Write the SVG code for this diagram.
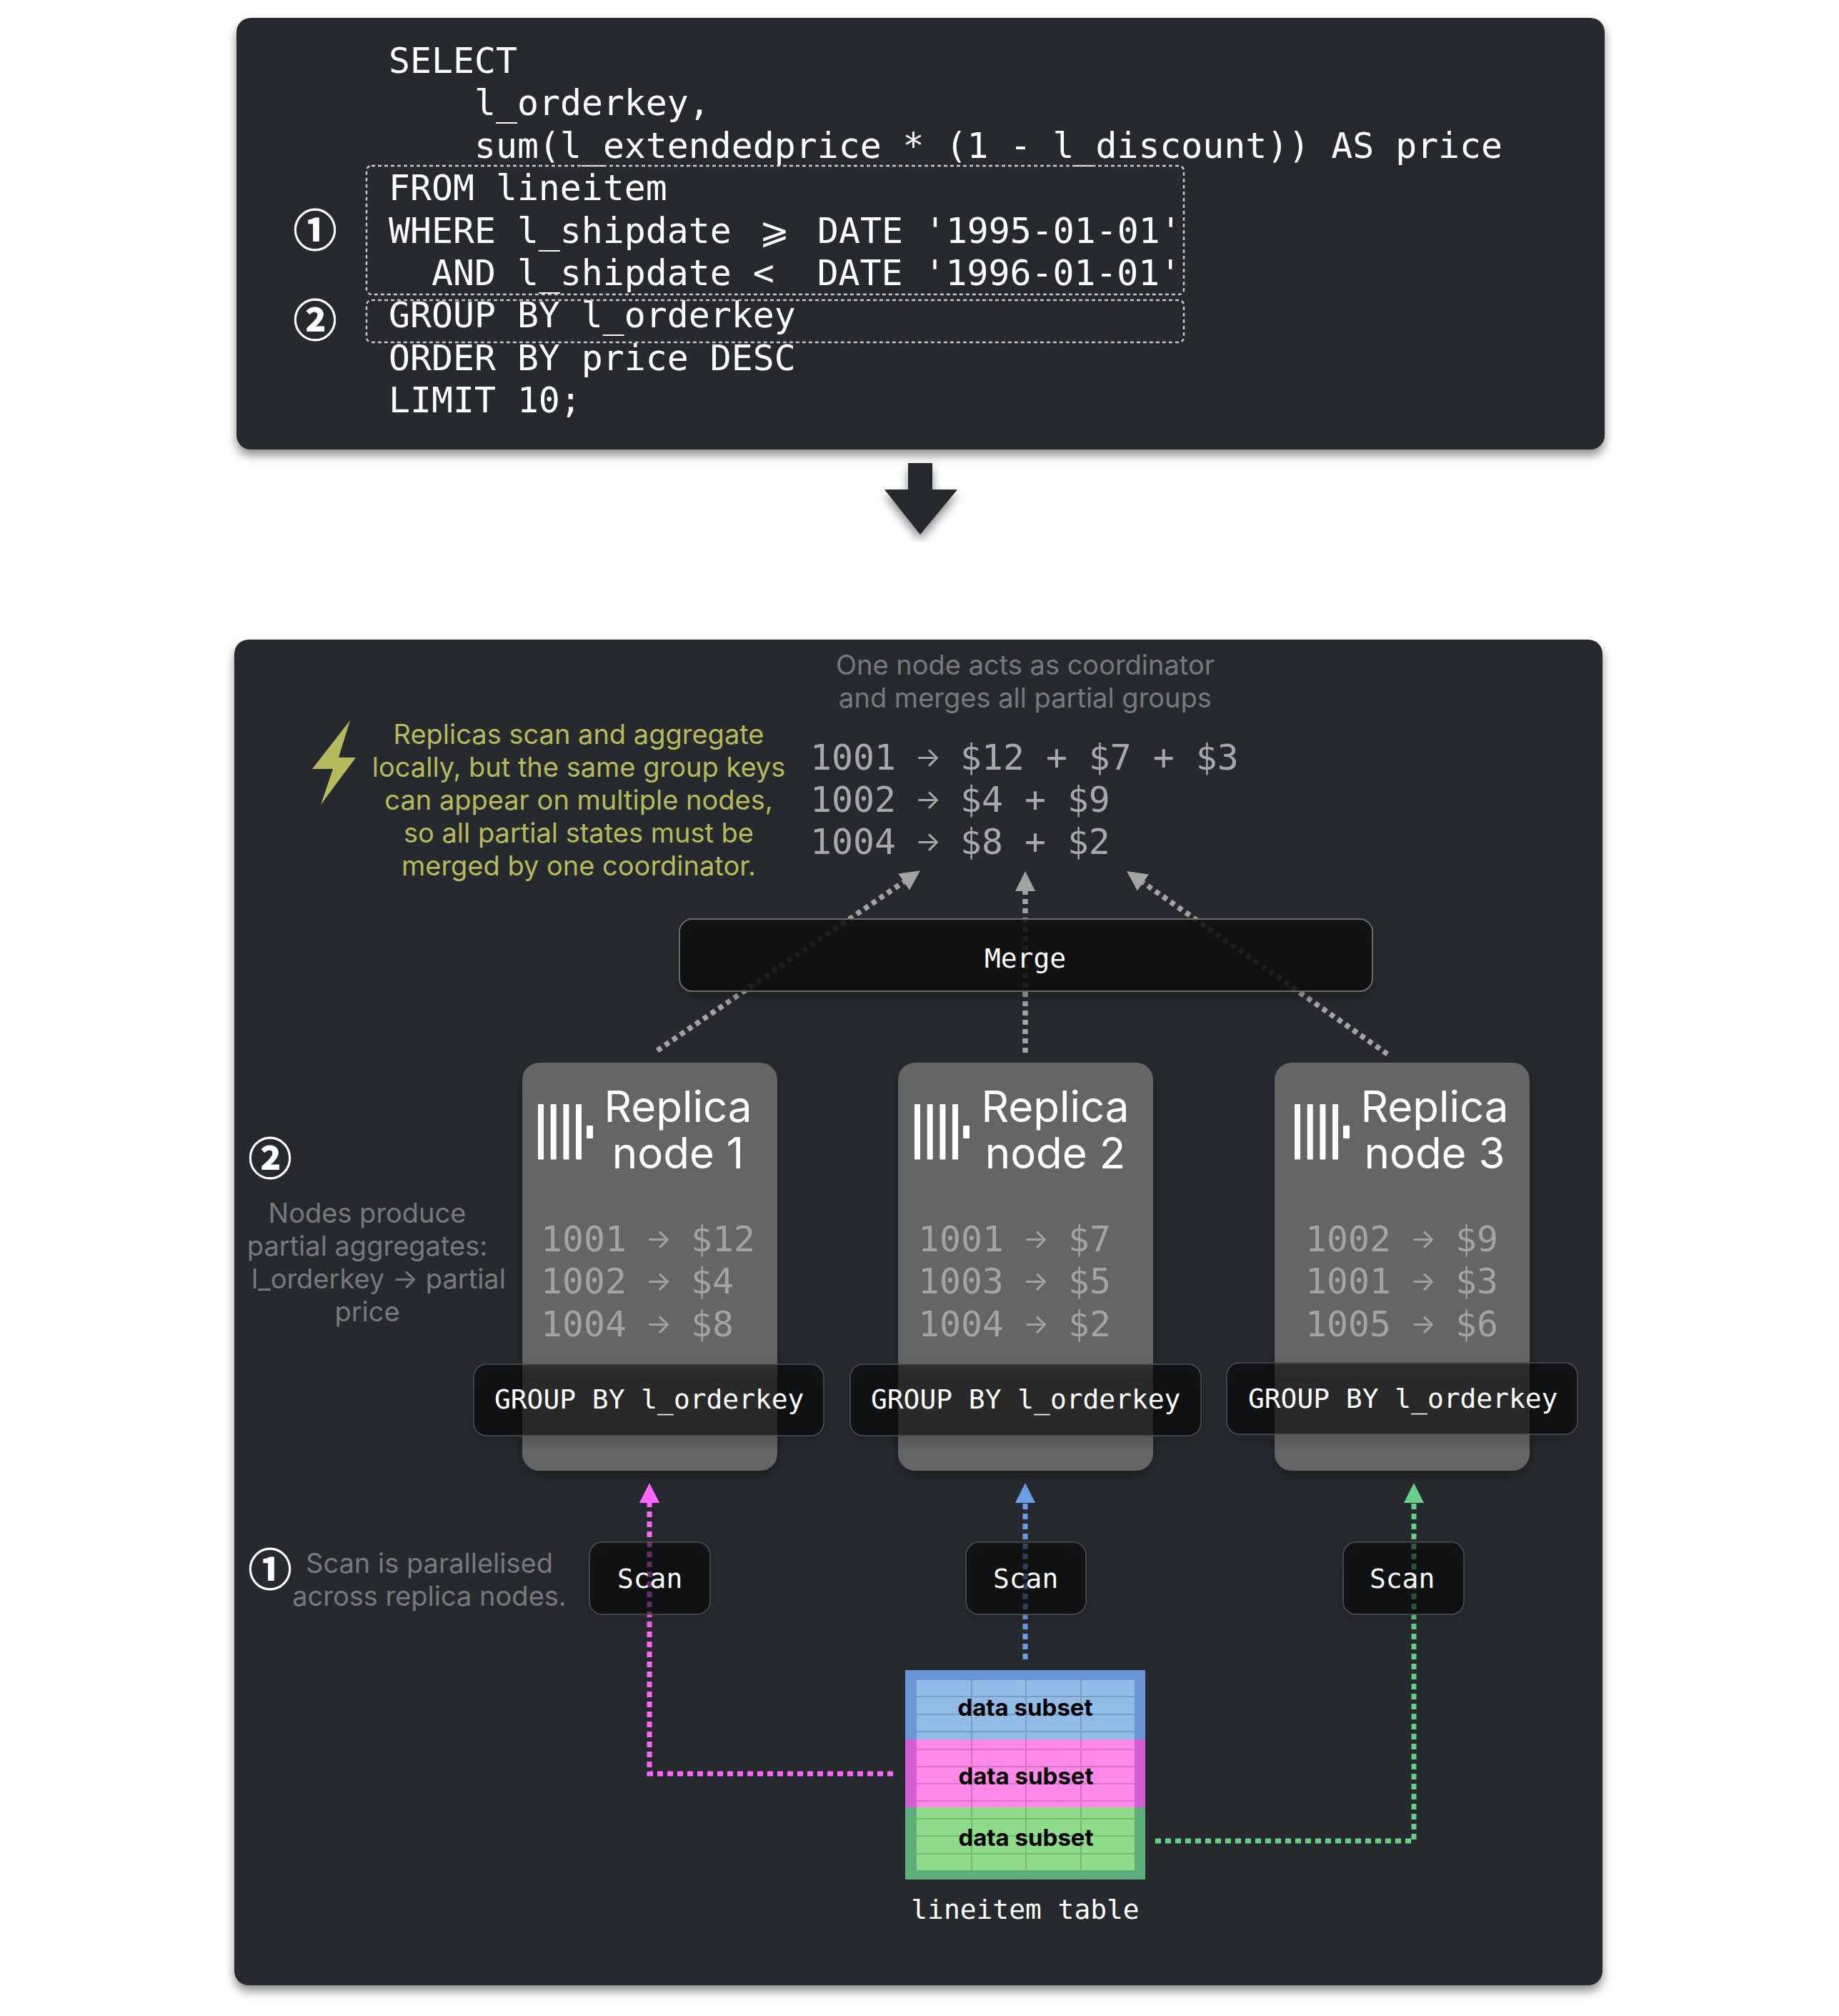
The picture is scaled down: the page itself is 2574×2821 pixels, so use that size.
<svg xmlns="http://www.w3.org/2000/svg" width="2574" height="2821" viewBox="0 0 2574 2821">
<style>
text{white-space:pre}
.m{font-family:"DejaVu Sans Mono","Liberation Mono",monospace}
.i{font-family:Inter,"Noto Sans",sans-serif}
.code{font-size:49.8px;fill:#fff}
.mid{text-anchor:middle}
.box{font-size:37.9px;fill:#fff}
.note{font-size:38px;fill:#78797c;text-anchor:middle}
.hint{font-size:38px;fill:#b6ba5c;text-anchor:middle}
.merged{font-size:49.8px;fill:#a8a8aa}
.row{font-size:49.8px;fill:#a3a3a3}
.ar{font-family:Inter,"Noto Sans",sans-serif;font-size:38px;text-anchor:middle}
.title{font-size:60px;fill:#fff;text-anchor:middle}
.sub{font-size:33px;font-weight:700;fill:#000;text-anchor:middle}
.circ{font-family:"Noto Sans CJK JP","DejaVu Sans",sans-serif;font-size:61px;font-weight:700;fill:#fff;text-anchor:middle;stroke:#fff;stroke-width:.8}
.dashbox{fill:none;stroke:#c8c8c8;stroke-width:2.5;stroke-dasharray:5 4}
.glass{fill:#050506;fill-opacity:.52;stroke:#4e4f52;stroke-width:1.5}
.conn{fill:none;stroke-width:7.5;stroke-dasharray:7 6}
.col{fill:none;stroke-width:7;stroke-dasharray:8 6}
.replica{fill:#656565}
.grid{stroke:#000;stroke-opacity:.16;stroke-width:2}
.logo{fill:#fff}
</style>
<defs>
<filter id="sh" x="-10%" y="-10%" width="120%" height="120%"><feDropShadow dx="0" dy="8" stdDeviation="7" flood-color="#000" flood-opacity=".45"/></filter>
<filter id="sh2" x="-20%" y="-20%" width="140%" height="140%"><feDropShadow dx="0" dy="8" stdDeviation="10" flood-color="#000" flood-opacity=".3"/></filter>
<marker id="aG" markerUnits="userSpaceOnUse" markerWidth="28" markerHeight="28" refX="0" refY="14" orient="auto"><path d="M0,0L28,14L0,28z" fill="#a3a3a3"/></marker>
<marker id="aP" markerUnits="userSpaceOnUse" markerWidth="28" markerHeight="28" refX="0" refY="14" orient="auto"><path d="M0,0L28,14L0,28z" fill="#ff66ff"/></marker>
<marker id="aB" markerUnits="userSpaceOnUse" markerWidth="28" markerHeight="28" refX="0" refY="14" orient="auto"><path d="M0,0L28,14L0,28z" fill="#6c9ee6"/></marker>
<marker id="aV" markerUnits="userSpaceOnUse" markerWidth="28" markerHeight="28" refX="0" refY="14" orient="auto"><path d="M0,0L28,14L0,28z" fill="#68d08a"/></marker>
<g id="logo"><rect x="0" y="0" width="8" height="77.500" rx="1"/><rect x="17.700" y="0" width="8" height="77.500" rx="1"/><rect x="35.400" y="0" width="8" height="77.500" rx="1"/><rect x="53" y="0" width="8" height="77.500" rx="1"/><rect x="68" y="30" width="9" height="18" rx="1"/></g>
</defs>
<rect width="2574" height="2821" fill="#fff"/>

<g id="sql-panel">
<rect x="331" y="25" width="1915" height="604" rx="20" fill="#28292e" filter="url(#sh)"/>
<text class="m code" x="544" y="102">SELECT</text>
<text class="m code" x="664" y="161.400">l_orderkey,</text>
<text class="m code" x="664" y="220.800">sum(l_extendedprice * (1 - l_discount)) AS price</text>
<text class="m code" x="544" y="280.200">FROM lineitem</text>
<text class="m code" x="544" y="339.600">WHERE l_shipdate<tspan x="1084" text-anchor="middle">⩾</tspan><tspan x="1144">DATE '1995-01-01'</tspan></text>
<text class="m code" x="604" y="399">AND l_shipdate &lt;  DATE '1996-01-01'</text>
<text class="m code" x="544" y="458.400">GROUP BY l_orderkey</text>
<text class="m code" x="544" y="517.800">ORDER BY price DESC</text>
<text class="m code" x="544" y="577.200">LIMIT 10;</text>
<rect class="dashbox" x="513" y="232" width="1144" height="180" rx="7"/>
<rect class="dashbox" x="513" y="420" width="1144" height="59" rx="7"/>
<text class="circ" x="441" y="345">①</text>
<text class="circ" x="441" y="471">②</text>
</g>

<g id="down-arrow"><path d="M1271,648H1305V685H1340L1288,748L1238,685H1271z" fill="#28292e" filter="url(#sh)"/></g>

<g id="cluster-panel">
<rect x="328" y="895" width="1915" height="1883" rx="20" fill="#28292e" filter="url(#sh)"/>
</g>

<g id="connectors">
<path class="conn" stroke="#a3a3a3" d="M920,1470L1265,1234" marker-end="url(#aG)"/>
<path class="conn" stroke="#a3a3a3" d="M1435,1473L1435,1247" marker-end="url(#aG)"/>
<path class="conn" stroke="#a3a3a3" d="M1942,1475L1600,1235" marker-end="url(#aG)"/>
<path class="col" stroke="#ff66ff" d="M1250,2482H909V2103" marker-end="url(#aP)"/>
<path class="col" stroke="#6c9ee6" d="M1435,2322V2103" marker-end="url(#aB)"/>
<path class="col" stroke="#68d08a" d="M1617,2576H1979V2103" marker-end="url(#aV)"/>
</g>

<g id="notes">
<text class="i note" x="1435" y="944">One node acts as coordinator</text>
<text class="i note" x="1435" y="990">and merges all partial groups</text>
<path d="M490,1008L437,1076H466L449,1126L498,1060H474z" fill="#b6ba5c"/>
<text class="i hint" x="810" y="1041">Replicas scan and aggregate</text>
<text class="i hint" x="810" y="1087">locally, but the same group keys</text>
<text class="i hint" x="810" y="1133">can appear on multiple nodes,</text>
<text class="i hint" x="810" y="1179">so all partial states must be</text>
<text class="i hint" x="810" y="1225">merged by one coordinator.</text>
<text class="m merged" x="1134" y="1077">1001 <tspan class="ar" x="1299" dy="-4">→</tspan><tspan x="1314" dy="4"> $12 + $7 + $3</tspan></text>
<text class="m merged" x="1134" y="1136">1002 <tspan class="ar" x="1299" dy="-4">→</tspan><tspan x="1314" dy="4"> $4 + $9</tspan></text>
<text class="m merged" x="1134" y="1195">1004 <tspan class="ar" x="1299" dy="-4">→</tspan><tspan x="1314" dy="4"> $8 + $2</tspan></text>
<text class="circ" x="378" y="1644">②</text>
<text class="i note" x="514" y="1711">Nodes produce</text>
<text class="i note" x="514" y="1757">partial aggregates:</text>
<text class="i note" x="530" y="1803">l_orderkey → partial</text>
<text class="i note" x="514" y="1849">price</text>
<text class="circ" x="378" y="2219">①</text>
<text class="i note" x="601" y="2201">Scan is parallelised</text>
<text class="i note" x="601" y="2247">across replica nodes.</text>
</g>

<g id="merge-node">
<rect x="951" y="1286" width="970" height="101" rx="18" fill="#08090b" fill-opacity=".85" stroke="#6a6b6e" stroke-width="2" filter="url(#sh2)"/>
<text class="m box mid" x="1435" y="1354">Merge</text>
</g>

<g id="replica-1">
<rect class="replica" x="731" y="1487" width="357" height="571" rx="24" filter="url(#sh2)"/>
<use href="#logo" x="753" y="1545" class="logo"/>
<text class="i title" x="949" y="1570">Replica</text>
<text class="i title" x="949" y="1635">node 1</text>
<text class="m row" x="757" y="1751">1001 <tspan class="ar" x="922" dy="-4">→</tspan><tspan x="937" dy="4"> $12</tspan></text>
<text class="m row" x="757" y="1810">1002 <tspan class="ar" x="922" dy="-4">→</tspan><tspan x="937" dy="4"> $4</tspan></text>
<text class="m row" x="757" y="1870">1004 <tspan class="ar" x="922" dy="-4">→</tspan><tspan x="937" dy="4"> $8</tspan></text>
</g>
<g id="replica-2">
<rect class="replica" x="1257" y="1487" width="357" height="571" rx="24" filter="url(#sh2)"/>
<use href="#logo" x="1280" y="1545" class="logo"/>
<text class="i title" x="1477" y="1570">Replica</text>
<text class="i title" x="1477" y="1635">node 2</text>
<text class="m row" x="1285" y="1751">1001 <tspan class="ar" x="1450" dy="-4">→</tspan><tspan x="1465" dy="4"> $7</tspan></text>
<text class="m row" x="1285" y="1810">1003 <tspan class="ar" x="1450" dy="-4">→</tspan><tspan x="1465" dy="4"> $5</tspan></text>
<text class="m row" x="1285" y="1870">1004 <tspan class="ar" x="1450" dy="-4">→</tspan><tspan x="1465" dy="4"> $2</tspan></text>
</g>
<g id="replica-3">
<rect class="replica" x="1784" y="1487" width="357" height="571" rx="24" filter="url(#sh2)"/>
<use href="#logo" x="1812" y="1545" class="logo"/>
<text class="i title" x="2008" y="1570">Replica</text>
<text class="i title" x="2008" y="1635">node 3</text>
<text class="m row" x="1827" y="1751">1002 <tspan class="ar" x="1992" dy="-4">→</tspan><tspan x="2007" dy="4"> $9</tspan></text>
<text class="m row" x="1827" y="1810">1001 <tspan class="ar" x="1992" dy="-4">→</tspan><tspan x="2007" dy="4"> $3</tspan></text>
<text class="m row" x="1827" y="1870">1005 <tspan class="ar" x="1992" dy="-4">→</tspan><tspan x="2007" dy="4"> $6</tspan></text>
</g>

<g id="group-1"><rect class="glass" x="663" y="1909" width="490" height="100" rx="18" filter="url(#sh2)"/><text class="m box" x="692" y="1971">GROUP BY l_orderkey</text></g>
<g id="group-2"><rect class="glass" x="1190" y="1909" width="491" height="100" rx="18" filter="url(#sh2)"/><text class="m box" x="1219" y="1971">GROUP BY l_orderkey</text></g>
<g id="group-3"><rect class="glass" x="1717" y="1907" width="491" height="100" rx="18" filter="url(#sh2)"/><text class="m box" x="1747" y="1970">GROUP BY l_orderkey</text></g>

<g id="scan-1"><rect class="glass" x="825" y="2158" width="169" height="101" rx="18" filter="url(#sh2)"/><text class="m box" x="864" y="2222">Scan</text></g>
<g id="scan-2"><rect class="glass" x="1352" y="2158" width="168" height="101" rx="18" filter="url(#sh2)"/><text class="m box" x="1390" y="2222">Scan</text></g>
<g id="scan-3"><rect class="glass" x="1880" y="2158" width="169" height="101" rx="18" filter="url(#sh2)"/><text class="m box" x="1917" y="2222">Scan</text></g>

<g id="lineitem-table">
<rect x="1267" y="2337" width="336" height="97" fill="#6a95d6"/>
<rect x="1267" y="2434" width="336" height="95" fill="#d45cd4"/>
<rect x="1267" y="2529" width="336" height="101" fill="#5dae7a"/>
<rect x="1283" y="2351" width="305" height="83" fill="#92bce8"/>
<rect x="1283" y="2434" width="305" height="95" fill="#ff88e8"/>
<rect x="1283" y="2529" width="305" height="88" fill="#8edc8a"/>
<path class="grid" d="M1360,2351V2617M1436,2351V2617M1513,2351V2617M1283,2374H1588M1283,2399H1588M1283,2423H1588M1283,2448H1588M1283,2472H1588M1283,2496H1588M1283,2520H1588M1283,2545H1588M1283,2569H1588M1283,2594H1588"/>
<text class="i sub" x="1435" y="2401">data subset</text>
<text class="i sub" x="1436" y="2497">data subset</text>
<text class="i sub" x="1436" y="2583">data subset</text>
<text class="m box mid" x="1435" y="2685">lineitem table</text>
</g>
</svg>
